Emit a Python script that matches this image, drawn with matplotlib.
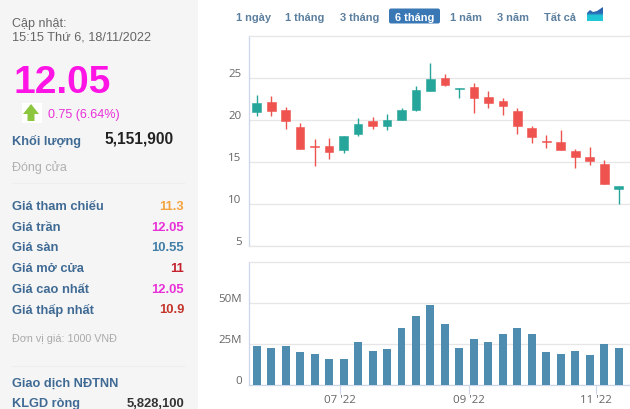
import matplotlib
matplotlib.use("Agg")
import matplotlib.pyplot as plt
from matplotlib.patches import Rectangle, FancyBboxPatch, Polygon
from matplotlib.colors import LinearSegmentedColormap
from matplotlib.transforms import ScaledTranslation
import numpy as np

plt.rcParams['font.family'] = ['Liberation Sans', 'DejaVu Sans']

W, H = 630, 410

# ---- data ----
opens  = [21.0,22.2,21.2,19.15,16.95,16.95,16.5,18.4,19.9,19.3,20.05,21.2,23.45,25.05,23.7,23.95,22.8,22.25,21.05,19.05,17.55,17.4,16.35,15.65,14.8,11.75]
closes = [22.0,21.1,19.9,16.6,16.75,16.15,18.1,19.5,19.3,20.0,21.25,23.55,24.9,24.25,23.8,22.6,22.1,21.65,19.3,17.95,17.4,16.4,15.6,15.1,12.4,12.1]
highs  = [23.05,22.9,21.6,19.65,17.7,17.9,18.1,20.25,20.35,20.7,21.4,24.1,26.85,25.5,23.8,24.45,23.5,22.7,21.4,19.3,18.25,18.85,16.6,16.8,15.2,12.1]
lows   = [20.5,20.5,19.0,16.6,14.5,15.35,16.05,18.15,18.9,18.85,20.05,21.05,23.45,24.1,22.6,20.9,21.4,20.6,18.3,17.25,16.65,16.4,14.3,14.7,12.4,10.0]
volumes = [23.6,22.4,23.6,19.9,18.7,15.9,15.9,26.0,20.5,21.7,34.6,41.7,48.4,36.8,22.4,27.8,26.0,30.9,34.6,30.9,19.9,18.7,20.5,18.1,24.8,22.4]
price_ticks = [5,10,15,20,25]
volume_ticks = [0,25,50]
volume_labels = ['0','25M','50M']
date_ticks = [5.75,14.66,23.4]
date_labels = ["07 '22","09 '22","11 '22"]
ranges = ['1 ngày','1 tháng','3 tháng','6 tháng','1 năm','3 năm','Tất cả']
stats = [('Giá tham chiếu','11.3','#f5a33f'),('Giá trần','12.05','#e830d8'),('Giá sàn','10.55','#3f7ea6'),
         ('Giá mở cửa','11','#c3202c'),('Giá cao nhất','12.05','#e830d8'),('Giá thấp nhất','10.9','#c3342c')]

UP, DOWN = '#26a69a', '#ef5350'
VOL = '#4f8db0'
GRID = '#e6e6e6'
AXC = '#ccd6eb'
LAB = '#666666'
px = 0.72

fig = plt.figure(figsize=(W/100, H/100), dpi=100)

def axes_px(l, t, r, b):
    return fig.add_axes([l/W, 1-b/H, (r-l)/W, (b-t)/H])

# overlay for page furniture, in pixel coordinates
bg = fig.add_axes([0,0,1,1]); bg.set_xlim(0,W); bg.set_ylim(H,0); bg.axis('off'); bg.set_zorder(0)
bg.add_patch(Rectangle((0,0),198,H,color='#f5f5f5',lw=0))
def T(x,y,s,size,color,weight='normal',ha='left'):
    bg.text(x,y,s,fontsize=size*px,color=color,fontweight=weight,ha=ha,va='center')

NAVY = '#3f6a94'
T(12,23.5,'Cập nhật:',12.5,'#666666')
T(12,38,'15:15 Thứ 6, 18/11/2022',12.8,'#666666')
T(13,83,'12.05',39,'#ff14e6','bold')
bg.add_patch(Rectangle((22,104),20,20,color='#ffffff',lw=0))
bg.add_patch(Polygon([(31,105),(39,115),(34.5,115),(34.5,122),(27.5,122),(27.5,115),(23,115)],color='#8cc63f',lw=0))
T(48,115,'0.75 (6.64%)',12.5,'#e830d8')
T(12,141,'Khối lượng',12.8,NAVY,'bold')
T(174,139.5,'5,151,900',15.6,'#222222','bold',ha='right')
T(12,168,'Đóng cửa',12.5,'#b0b0b0')
bg.plot([12,184],[184,184],color='#eeeeee',lw=0.8)
for i,(name,val,col) in enumerate(stats):
    y = 207+i*20.7
    T(12,y,name,12.9,NAVY,'bold')
    T(184,y,val,13,col,'bold',ha='right')
T(12,339,'Đơn vị giá: 1000 VNĐ',10.8,'#aaaaaa')
bg.plot([12,184],[367,367],color='#eeeeee',lw=0.8)
T(12,384,'Giao dịch NĐTNN',12.8,NAVY,'bold')
T(12,404,'KLGD ròng',12.7,NAVY,'bold')
T(184,404,'5,828,100',13,'#333333','bold',ha='right')

# range selector
bg.add_patch(FancyBboxPatch((389,9.5),51,15,boxstyle='round,pad=0,rounding_size=2',color='#3a78b5',lw=0))
for s,xc in zip(ranges,[253,305,359.5,414.5,466,512.5,560]):
    bg.text(xc,17.6,s,fontsize=11*px,fontweight='bold',
            color='#ffffff' if s=='6 tháng' else '#5b7f9e',ha='center',va='center')
grad = np.linspace(0,1,20).reshape(-1,1)
cm = LinearSegmentedColormap.from_list('ic',[(0,'#2b5fae'),(0.45,'#2b6cb4'),(0.6,'#22c4d8'),(1,'#20c8d4')])
im = bg.imshow(grad,extent=(587,603,22,8),cmap=cm,aspect='auto',zorder=2)
im.set_clip_path(Polygon([(587,14),(590,11),(593,13),(597,12),(603,8),(603,22),(587,22)],transform=bg.transData))
bg.set_xlim(0,W); bg.set_ylim(H,0)

def lift(axis_obj, dy_px):
    for lab in axis_obj.get_yticklabels():
        lab.set_transform(lab.get_transform()+ScaledTranslation(0,dy_px/100,fig.dpi_scale_trans))

# price panel
SP = 14.48
x0 = 256.7
xlim = ((248.5-x0)/SP,(630-x0)/SP)
ax = axes_px(248.5,37,630,247)
ax.set_zorder(1); ax.patch.set_alpha(0)
py = lambda y: 25-(y-79.3)/8.4
ax.set_xlim(*xlim); ax.set_ylim(py(247),py(37))
x = np.arange(len(opens))
cols = [UP if c>=o else DOWN for o,c in zip(opens,closes)]
ax.vlines(x,lows,highs,colors=cols,lw=1.0,zorder=3)
ax.bar(x,np.abs(np.array(closes)-np.array(opens)),bottom=np.minimum(opens,closes),width=0.6,color=cols,lw=0.4,edgecolor=cols,zorder=3)
ax.set_yticks(price_ticks); ax.set_yticklabels([str(t) for t in price_ticks],family='Open Sans')
ax.set_xticks([])
ax.grid(axis='y',color=GRID,lw=0.9); ax.set_axisbelow(True)
ax.tick_params(axis='y',length=0,labelsize=11.5*px,labelcolor=LAB,pad=5)
lift(ax,6)
ax.spines['right'].set_visible(False)
ax.spines['left'].set_color(AXC); ax.spines['left'].set_linewidth(0.9)
for s in ['top','bottom']:
    ax.spines[s].set_color(GRID); ax.spines[s].set_linewidth(0.9)

# volume panel
vx = axes_px(248.5,262.7,630,385.7)
vx.set_zorder(1); vx.patch.set_alpha(0)
vx.set_xlim(*xlim); vx.set_ylim(0,75)
vx.bar(x,volumes,width=0.55,color=VOL,lw=0,zorder=3)
vx.set_yticks(volume_ticks); vx.set_yticklabels(volume_labels,family='Open Sans')
vx.set_xticks(date_ticks); vx.set_xticklabels(date_labels,family='Open Sans')
vx.grid(axis='y',color=GRID,lw=0.9); vx.set_axisbelow(True)
vx.tick_params(axis='y',length=0,labelsize=11.5*px,labelcolor=LAB,pad=5)
vx.tick_params(axis='x',length=9*px,width=0.8,color=AXC,labelsize=11.5*px,labelcolor=LAB,pad=0.5)
lift(vx,6)
vx.spines['right'].set_visible(False)
for s in ['left','bottom','top']:
    vx.spines[s].set_color(AXC if s!='top' else GRID); vx.spines[s].set_linewidth(0.9)

fig.savefig('out.png',dpi=100)
